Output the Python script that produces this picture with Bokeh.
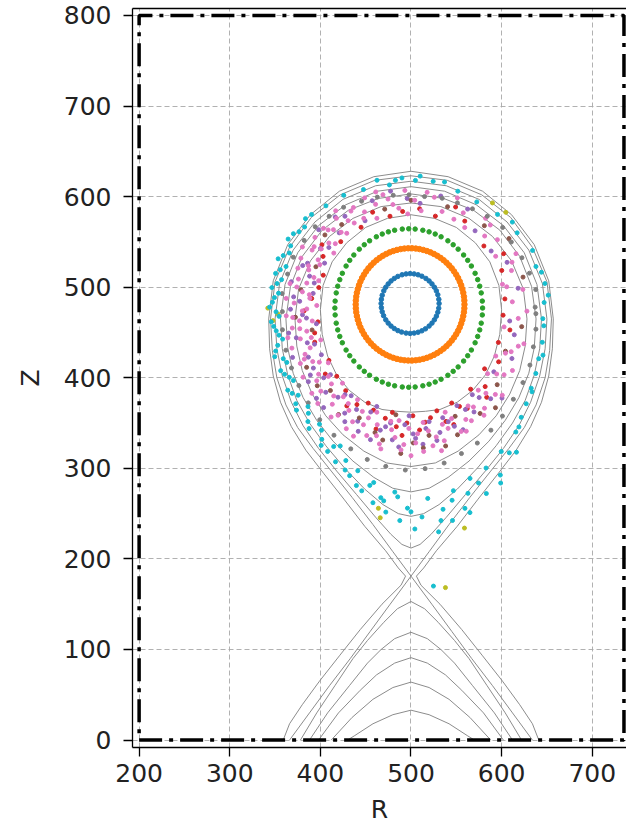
import numpy as np
from bokeh.plotting import figure
from bokeh.models import Range1d, LinearAxis, FixedTicker
from bokeh.embed import file_html
from bokeh.resources import INLINE

# ---------------- axes ----------------
R_TICKS = [200, 300, 400, 500, 600, 700]
Z_TICKS = [0, 100, 200, 300, 400, 500, 600, 700, 800]

# ---------------- wall (dash-dot rectangle) ----------------
WALL_R = [200, 735, 735, 200, 200]
WALL_Z = [0, 0, 800, 800, 0]

# ---------------- flux surfaces (grey contours) ----------------
SOL_R = [359, 366, 380, 399, 421, 444, 468, 489, 494, 486, 472, 449, 426, 404, 384, 368, 356, 348, 344, 343,
         348, 364, 389, 421, 459, 500, 541, 579, 611, 636, 652, 657,
         656, 652, 644, 632, 616, 596, 574, 551, 528, 514, 506, 511, 532, 556, 579, 601, 620, 634, 641]
SOL_Z = [0, 18, 39, 65, 93, 122, 150, 171, 181, 190, 209, 236, 266, 294, 320, 346, 373, 402, 432, 465,
         507, 547, 580, 606, 622, 628, 622, 606, 580, 547, 507, 465,
         432, 402, 373, 346, 320, 294, 266, 236, 209, 190, 181, 171, 150, 122, 93, 65, 39, 18, 0]

SEP_R = [500, 480, 458, 435, 412, 392, 375, 362, 352, 347, 345, 350, 366, 390, 422, 460, 500,
         540, 578, 610, 634, 650, 655, 653, 648, 638, 625, 608, 588, 565, 542, 520, 500]
SEP_Z = [181, 208, 238, 268, 297, 322, 345, 370, 400, 430, 465, 506, 544, 577, 602, 618, 623,
         618, 602, 577, 544, 506, 465, 430, 400, 370, 345, 322, 297, 268, 238, 208, 181]
LEG_L_R = [500, 477, 455, 433, 410, 388, 366]
LEG_L_Z = [181, 150, 120, 90, 60, 30, 0]
LEG_R_R = [500, 523, 545, 567, 590, 612, 634]
LEG_R_Z = [181, 150, 120, 90, 60, 30, 0]

S1_R = [500, 490, 478, 461, 440, 418, 398, 381, 368, 358, 352, 350, 355, 370, 394, 425, 461, 500,
        539, 575, 606, 630, 645, 650, 648, 642, 632, 619, 602, 582, 560, 539, 522, 510, 500]
S1_Z = [212, 216, 227, 246, 271, 297, 322, 347, 373, 402, 432, 465, 504, 541, 572, 597, 612, 617,
        612, 597, 572, 541, 504, 465, 432, 402, 373, 347, 322, 297, 271, 246, 227, 216, 212]
S2_R = [500, 486, 469, 449, 427, 406, 388, 374, 364, 358, 356, 361, 375, 398, 428, 463, 500,
        537, 572, 602, 625, 639, 644, 642, 636, 626, 612, 594, 573, 551, 531, 514, 500]
S2_Z = [247, 250, 260, 277, 300, 325, 350, 375, 403, 432, 465, 503, 538, 568, 591, 606, 611,
        606, 591, 568, 538, 503, 465, 432, 403, 375, 350, 325, 300, 277, 260, 250, 247]
S3_R = [500, 480, 459, 436, 414, 396, 381, 370, 364, 362, 367, 380, 402, 431, 464, 500,
        536, 569, 598, 620, 633, 638, 636, 630, 619, 604, 586, 564, 541, 520, 500]
S3_Z = [274, 278, 290, 308, 330, 353, 378, 405, 433, 465, 501, 534, 563, 585, 598, 603,
        598, 585, 563, 534, 501, 465, 433, 405, 378, 353, 330, 308, 290, 278, 274]
S4_R = [500, 473, 448, 425, 406, 391, 380, 374, 372, 376, 389, 410, 436, 467, 500,
        533, 564, 590, 611, 624, 628, 626, 620, 609, 594, 575, 552, 527, 500]
S4_Z = [302, 306, 319, 337, 358, 382, 408, 435, 465, 498, 529, 556, 576, 589, 593,
        589, 576, 556, 529, 498, 465, 435, 408, 382, 358, 337, 319, 306, 302]
S5_R = [500, 484, 468, 449, 432, 418, 408, 402, 400, 403, 413, 429, 450, 474, 500,
        526, 550, 571, 587, 597, 600, 598, 592, 582, 568, 551, 532, 516, 500]
S5_Z = [362, 363, 365, 373, 386, 403, 424, 448, 475, 502, 528, 549, 566, 576, 580,
        576, 566, 549, 528, 502, 475, 448, 424, 403, 386, 373, 365, 363, 362]

# private-flux arches below the X-point
A_R = [378, 396, 416, 436, 452, 470, 485, 500, 515, 530, 548, 564, 584, 604, 622]
A_Z = [0, 30, 60, 90, 110, 130, 145, 153, 145, 130, 110, 90, 60, 30, 0]
B_R = [388, 408, 432, 452, 467, 482, 500, 518, 533, 548, 568, 592, 612]
B_Z = [0, 30, 60, 85, 100, 112, 119, 112, 100, 85, 60, 30, 0]
C_R = [398, 420, 444, 462, 482, 500, 518, 538, 556, 580, 602]
C_Z = [0, 30, 55, 72, 85, 91, 85, 72, 55, 30, 0]
D_R = [412, 435, 458, 480, 500, 520, 542, 565, 588]
D_Z = [0, 25, 45, 58, 64, 58, 45, 25, 0]
E_R = [430, 438, 458, 480, 500, 520, 542, 562, 570]
E_Z = [0, 5, 18, 28, 33, 28, 18, 5, 0]

# ---------------- Poincare orbits ----------------
# regular rings: centre R, centre Z, half-width, half-height, poloidal angles (deg)
BLUE_C = (499, 482, 32, 33)
BLUE_ANG = [0, 8, 17, 25, 33, 41, 49, 57, 66, 74, 82, 90, 98, 106, 115, 123, 131, 139, 147, 155, 164,
            172, 180, 188, 196, 204, 213, 221, 229, 237, 245, 253, 262, 270, 278, 286, 294, 302, 311,
            319, 327, 335, 343, 351]
ORANGE_C = (499, 481, 60, 62)
ORANGE_ANG = [0, 4, 8, 12, 16, 20, 24, 28, 32, 36, 40, 44, 48, 52, 56, 60, 64, 68, 72, 76, 80, 84, 88,
              92, 96, 100, 104, 108, 112, 116, 120, 124, 128, 132, 136, 140, 144, 148, 152, 156, 160,
              164, 168, 172, 176, 180, 184, 188, 192, 196, 200, 204, 208, 212, 216, 220, 224, 228, 232,
              236, 240, 244, 248, 252, 256, 260, 264, 268, 272, 276, 280, 284, 288, 292, 296, 300, 304,
              308, 312, 316, 320, 324, 328, 332, 336, 340, 344, 348, 352, 356]
GREEN_C = (497.5, 477, 81.5, 87.5)
GREEN_ANG = [0, 5, 11, 16, 21, 26, 32, 37, 42, 48, 53, 58, 64, 69, 74, 79, 85, 90, 95, 101, 106, 111,
             116, 122, 127, 132, 138, 143, 148, 154, 159, 164, 169, 175, 180, 185, 191, 196, 201, 206,
             212, 217, 222, 228, 233, 238, 244, 249, 254, 259, 265, 270, 275, 281, 286, 291, 296, 302,
             307, 312, 318, 323, 328, 334, 339, 344, 349, 355]

# stochastic orbits, read as (angle deg, distance) about the point below
POLAR_C = (500, 478)
RED_T = [5, 22, 40, 58, 75, 95, 112, 122, 137, 150, 160, 175, 189, 200, 213, 223, 232, 241, 250, 257,
         263, 268, 274, 280, 287, 293, 299, 306, 313, 320, 328, 338, 347, 355,
         30, 66, 85, 103, 145, 168, 182, 195, 218, 237, 246, 254, 260, 266, 271, 277, 284, 290, 296, 310]
RED_D = [104, 108, 105, 112, 104, 106, 113, 104, 106, 112, 103, 110, 104, 113, 108, 112, 117, 123, 121,
         126, 133, 128, 136, 124, 132, 115, 128, 112, 120, 106, 114, 104, 112, 102,
         118, 121, 109, 103, 120, 104, 118, 110, 120, 130, 116, 140, 118, 142, 120, 128, 118, 138, 122, 130]
PURPLE_T = [10, 35, 60, 85, 100, 118, 126, 134, 140, 147, 153, 159, 163, 168, 172, 177, 181, 186, 190,
            195, 199, 203, 208, 212, 216, 220, 225, 229, 233, 238, 242, 247, 251, 256, 260, 265, 269,
            272, 277, 281, 286, 290, 295, 301, 307, 315, 322, 333, 345, 352,
            130, 144, 157, 166, 175, 184, 192, 201, 206, 214, 219, 224, 231, 236, 240, 245, 249, 253,
            258, 262, 267, 271, 275, 279, 283, 288, 293, 298, 305, 311, 25, 50, 75, 92, 110]
PURPLE_D = [120, 108, 125, 115, 130, 108, 124, 114, 133, 119, 107, 128, 117, 135, 109, 123, 133, 116,
            106, 131, 121, 142, 112, 127, 140, 116, 133, 147, 121, 138, 128, 149, 116, 140, 130, 155,
            120, 145, 135, 150, 127, 140, 120, 135, 125, 142, 116, 125, 118, 110,
            130, 112, 124, 110, 130, 120, 138, 114, 126, 134, 124, 145, 128, 118, 146, 139, 124, 153,
            135, 148, 130, 140, 152, 128, 142, 133, 147, 128, 118, 134, 117, 110, 127, 120, 125]
BROWN_T = [15, 48, 70, 105, 130, 157, 171, 193, 210, 226, 236, 245, 254, 262, 271, 278, 284, 292, 303,
           318, 335, 350, 35, 90, 140, 185, 220, 258, 266, 275, 290, 310]
BROWN_D = [128, 121, 118, 112, 119, 114, 123, 112, 133, 128, 143, 135, 144, 120, 150, 143, 158, 130,
           140, 128, 115, 124, 132, 118, 124, 128, 135, 150, 162, 156, 150, 145]
PINK_T = [3, 9, 14, 20, 27, 31, 38, 44, 50, 56, 61, 67, 72, 78, 84, 88, 93, 97, 102, 107, 111, 116, 120,
          124, 128, 131, 135, 138, 142, 145, 148, 151, 155, 158, 161, 164, 167, 170, 173, 176, 179, 182,
          185, 188, 191, 194, 197, 200, 204, 207, 211, 214, 218, 221, 224, 228, 231, 234, 237, 240, 243,
          246, 249, 252, 255, 258, 261, 264, 267, 270, 273, 276, 279, 282, 285, 288, 292, 296, 300, 304,
          309, 314, 319, 324, 330, 336, 342, 348, 354, 358,
          100, 104, 109, 113, 118, 122, 126, 130, 133, 137, 140, 144, 147, 150, 153, 156, 160, 163, 166,
          169, 172, 175, 178, 181, 184, 187, 190, 193, 196, 199, 202, 206, 209, 213, 216, 220, 223, 226,
          229, 233, 236, 239, 242, 245, 248, 251, 254, 257, 260, 263, 266, 269, 272, 275, 278, 281, 284,
          287, 290, 294, 298, 302, 306, 311, 316, 322, 328, 334, 340, 12, 24, 46, 64, 82, 92]
PINK_D = [112, 125, 104, 118, 130, 109, 121, 113, 128, 106, 119, 131, 111, 124, 107, 118, 129, 110, 122,
          133, 105, 117, 127, 112, 135, 108, 121, 130, 115, 104, 126, 137, 111, 122, 132, 106, 118, 128,
          113, 138, 104, 120, 131, 110, 125, 140, 115, 106, 128, 137, 118, 110, 132, 145, 122, 113, 138,
          150, 127, 118, 142, 156, 131, 122, 147, 160, 137, 126, 152, 164, 140, 128, 155, 162, 134, 122,
          148, 138, 126, 144, 118, 134, 112, 127, 108, 121, 131, 105, 119, 128,
          115, 128, 120, 131, 111, 125, 118, 128, 113, 125, 109, 131, 118, 126, 115, 133, 120, 112, 128,
          136, 121, 112, 129, 115, 138, 124, 133, 118, 127, 139, 120, 131, 124, 142, 126, 119, 136, 148,
          130, 124, 144, 133, 152, 127, 140, 150, 135, 155, 128, 145, 158, 134, 150, 160, 138, 146, 152,
          140, 131, 150, 142, 130, 138, 126, 140, 120, 132, 116, 126, 108, 122, 126, 108, 128, 103]
GRAY_T = [0, 8, 16, 24, 33, 41, 50, 58, 66, 74, 83, 91, 99, 107, 115, 124, 132, 140, 148, 157, 165, 174,
          182, 190, 199, 207, 215, 223, 231, 239, 247, 254, 261, 268, 275, 282, 289, 296, 303, 310, 318,
          326, 334, 342, 350, 357]
GRAY_D = [137, 139, 136, 134, 132, 134, 131, 128, 126, 125, 123, 124, 125, 127, 129, 133, 135, 138, 139,
          141, 141, 143, 142, 144, 146, 148, 151, 155, 160, 165, 170, 175, 178, 180, 179, 176, 171, 167,
          162, 157, 152, 149, 146, 142, 140, 138]
OLIVE_T = [180.4, 185.6, 183, 260.8, 261.7, 283.6, 277, 45, 52]
OLIVE_D = [158, 153, 147, 225, 235, 251, 312, 148, 146]
CYAN_T = [2, 10, 18, 25, 35, 47, 58, 68, 80, 88, 94, 100, 112, 121, 130, 137, 143, 148, 153, 158, 162,
          166, 170, 174, 178, 182, 186, 190, 194, 198, 202, 206, 210, 214, 218, 222, 226, 230, 234, 237,
          241, 244, 247, 250, 252, 255, 257, 259, 261, 263, 265, 267, 269, 271, 273, 275, 277, 279, 281,
          283, 285, 287, 289, 292, 295, 298, 302, 306, 310, 315, 320, 326, 332, 338, 345, 352, 274.6,
          140, 146, 151, 156, 160, 164, 168, 172, 176, 180, 184, 188, 192, 196, 200, 204, 208, 212, 216,
          220, 224, 228, 232, 236, 240, 243, 248, 253, 258, 262, 266, 270, 278, 282, 286, 291, 297, 304,
          312, 325, 340, 355, 5, 15, 40, 75, 86, 97, 105]
CYAN_D = [147, 150, 145, 148, 143, 140, 137, 138, 141, 140, 143, 137, 140, 144, 146, 150, 147, 153, 149,
          152, 145, 154, 150, 147, 153, 149, 155, 151, 146, 157, 152, 160, 155, 164, 158, 170, 163, 175,
          168, 182, 176, 190, 184, 198, 190, 210, 202, 220, 213, 228, 205, 236, 222, 245, 232, 212, 250,
          226, 240, 208, 230, 215, 200, 222, 196, 210, 188, 198, 180, 172, 166, 160, 156, 152, 150, 148,
          309,
          152, 149, 155, 147, 156, 150, 146, 155, 151, 156, 146, 153, 149, 153, 160, 150, 158, 153, 162,
          166, 158, 170, 164, 176, 184, 172, 194, 206, 198, 216, 210, 226, 238, 218, 236, 208, 218, 194,
          178, 163, 155, 146, 152, 149, 146, 143, 145, 141, 145]

TAB = {"blue": "#1f77b4", "orange": "#ff7f0e", "green": "#2ca02c", "red": "#d62728",
       "purple": "#9467bd", "brown": "#8c564b", "pink": "#e377c2", "gray": "#7f7f7f",
       "olive": "#bcbd22", "cyan": "#17becf"}


def ring(params, ang):
    cr, cz, ar, az = params
    t = np.radians(np.asarray(ang, float))
    return cr + ar * np.cos(t), cz + az * np.sin(t)


def polar(theta, dist):
    t = np.radians(np.asarray(theta, float))
    d = np.asarray(dist, float)
    return POLAR_C[0] + d * np.cos(t), POLAR_C[1] + d * np.sin(t)


FONT = "DejaVu Sans"
p = figure(width=626, height=833, x_range=Range1d(192.7, 737.8), y_range=Range1d(-8.2, 807.7),
           output_backend="svg", toolbar_location=None,
           min_border_left=132, min_border_right=0, min_border_top=8, min_border_bottom=86)
p.outline_line_color = None
p.background_fill_color = "white"
p.border_fill_color = "white"

p.xaxis.ticker = FixedTicker(ticks=R_TICKS)
p.yaxis.ticker = FixedTicker(ticks=Z_TICKS)
p.xaxis.axis_label = "R"
p.yaxis.axis_label = "Z"
for ax in (p.xaxis, p.yaxis):
    ax.axis_label_text_font = FONT
    ax.axis_label_text_font_size = "25px"
    ax.axis_label_text_font_style = "normal"
    ax.axis_label_text_color = "#222222"
    ax.major_label_text_font = FONT
    ax.major_label_text_font_size = "25px"
    ax.major_label_text_color = "#222222"
    ax.major_tick_in = 0
    ax.major_tick_out = 9
    ax.major_tick_line_width = 1.3
    ax.major_tick_line_color = "black"
    ax.minor_tick_line_color = None
    ax.axis_line_color = "black"
    ax.axis_line_width = 1.3
p.xaxis.major_label_standoff = 7
p.xaxis.axis_label_standoff = 10
p.yaxis.major_label_standoff = 12
p.yaxis.axis_label_standoff = 16

top = LinearAxis(ticker=FixedTicker(ticks=[]), axis_line_color="black", axis_line_width=1.3,
                 major_tick_line_color=None, minor_tick_line_color=None,
                 major_label_text_font_size="0px")
p.add_layout(top, "above")

p.grid.grid_line_color = "#a8a8a8"
p.grid.grid_line_dash = "5 3"
p.grid.grid_line_width = 0.9

# contours
GREY = "#8c8c8c"
for xs, ys in [(SOL_R, SOL_Z), (SEP_R, SEP_Z), (LEG_L_R, LEG_L_Z), (LEG_R_R, LEG_R_Z),
               (S1_R, S1_Z), (S2_R, S2_Z), (S3_R, S3_Z), (S4_R, S4_Z), (S5_R, S5_Z),
               (A_R, A_Z), (B_R, B_Z), (C_R, C_Z), (D_R, D_Z), (E_R, E_Z)]:
    p.line(xs, ys, line_color=GREY, line_width=1.0, line_join="round")

# orbits
bx, bz = ring(BLUE_C, BLUE_ANG)
p.scatter(bx, bz, size=4.5, fill_color=TAB["blue"], line_color=TAB["blue"])
ox, oz = ring(ORANGE_C, ORANGE_ANG)
p.scatter(ox, oz, size=5.5, fill_color=TAB["orange"], line_color=TAB["orange"])
gx, gz = ring(GREEN_C, GREEN_ANG)
p.scatter(gx, gz, size=4.5, fill_color=TAB["green"], line_color=TAB["green"])

for key, T, D in [("red", RED_T, RED_D), ("purple", PURPLE_T, PURPLE_D), ("brown", BROWN_T, BROWN_D),
                  ("pink", PINK_T, PINK_D), ("gray", GRAY_T, GRAY_D), ("olive", OLIVE_T, OLIVE_D),
                  ("cyan", CYAN_T, CYAN_D)]:
    x, z = polar(T, D)
    p.scatter(x, z, size=4, fill_color=TAB[key], line_color=TAB[key])

# wall
p.line(WALL_R, WALL_Z, line_color="black", line_width=3.5, line_dash="23 7 4 7")

open("out.html", "w").write(file_html(p, INLINE))
